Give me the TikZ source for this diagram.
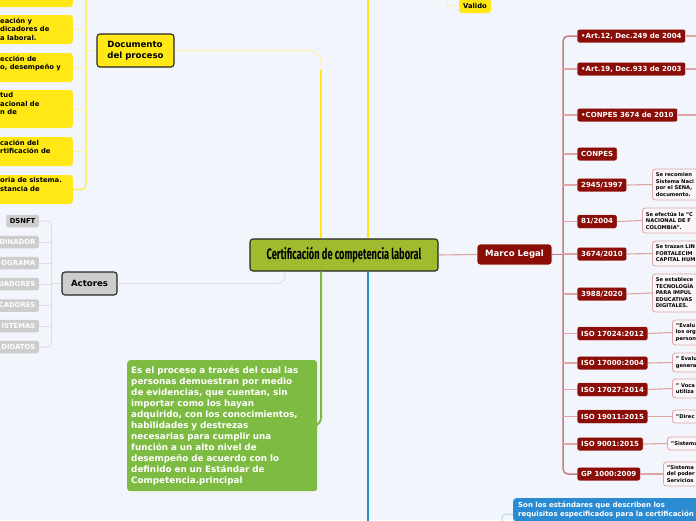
\documentclass[tikz,border=0pt]{standalone}
\usepackage{fontspec}
\setmainfont{DejaVu Sans}
\newfontfamily\condfont[FakeStretch=0.62]{Fira Sans}
\usetikzlibrary{positioning}
\definecolor{fondo}{HTML}{F3F5FC}
\definecolor{amarillo}{HTML}{FFE816}
\definecolor{amarillop}{HTML}{FFF1A6}
\definecolor{oliva}{HTML}{A0BB2E}
\definecolor{verde}{HTML}{7DBB42}
\definecolor{azul}{HTML}{2A8AD2}
\definecolor{azulp}{HTML}{B8D8F0}
\definecolor{rojo}{HTML}{8B0D08}
\definecolor{rojop}{HTML}{DDA5A5}
\definecolor{rojot}{HTML}{C47C7E}
\definecolor{gris}{HTML}{CDCDCD}
\definecolor{grisp}{HTML}{DCDDE5}
\definecolor{notab}{HTML}{FBF6F7}

\begin{document}
\begin{tikzpicture}[x=1pt,y=-1pt,
    every node/.style={font=\bfseries},
    tema/.style={draw=black!85,line width=1.1pt,rounded corners=3pt,inner sep=0pt,align=left,font=\bfseries\fontsize{8.6}{11}\selectfont},
    hojaam/.style={fill=amarillo,rounded corners=3pt,inner sep=0pt},
    actor/.style={fill=gris,text=white,rounded corners=2pt,inner xsep=3.5pt,inner ysep=0pt,minimum height=12.5pt,anchor=east,font=\bfseries\fontsize{6.8}{8}\selectfont},
    legal/.style={fill=rojo,draw=white,line width=0.4pt,text=white,rounded corners=2pt,inner xsep=4pt,inner ysep=0pt,minimum height=13.5pt,anchor=west,font=\bfseries\fontsize{7}{8}\selectfont},
    nota/.style={fill=notab,draw=rojop,line width=0.8pt,rounded corners=3pt,anchor=west,align=left,text width=60pt,inner xsep=3.5pt,inner ysep=0pt,font=\bfseries\fontsize{5.2}{6.5}\selectfont},
    ramaam/.style={draw=amarillop,line width=1pt},
    troncoam/.style={draw=amarillo,line width=2pt},
    ramagr/.style={draw=grisp,line width=1pt},
    ramarj/.style={draw=rojop,line width=1.1pt},
    troncorj/.style={draw=rojot,line width=1.5pt},
    troncove/.style={draw=verde,line width=2pt},
    troncoaz/.style={draw=azul,line width=2pt},
  ]
  \useasboundingbox (0,0) rectangle (696,520);
  \fill[fondo] (0,0) rectangle (696,520);
  \clip (0,0) rectangle (696,520);

  \node[tema, fill=oliva, minimum width=188pt, minimum height=32pt, align=center,
    font=\condfont\bfseries\fontsize{15}{15}\selectfont] (centro) at (344,255) {Certificación de competencia laboral};

  % documento del proceso
  \node[tema, fill=amarillo, minimum width=77pt, minimum height=33pt] (doc) at (135.5,50.5) {Documento\\del proceso};
  \foreach \i/\yc/\h/\txt in {1/-7.5/29/{}, 2/29.5/29/{eación y\\dicadores de\\a laboral.}, 3/67.5/29/{ección de\\o, desempeño y},
      4/109/38/{tud\\acional de\\n de}, 5/151.5/29/{cación del\\rtificación de}, 6/189.5/29/{oria de sistema.\\stancia de}} {
    \node[hojaam, minimum width=80pt, minimum height=\h pt, anchor=east] (pa\i) at (73,\yc) {};
    \node[anchor=north west, align=left, inner sep=0pt, font=\bfseries\fontsize{6.8}{8.5}\selectfont] (tx\i) at (0,\yc-\h/2+2.5) {\txt};
  }
  \node[hojaam, minimum width=32pt, minimum height=14pt, font=\bfseries\fontsize{6.8}{8}\selectfont] (valido) at (475,6) {Valido};

  \coordinate (tam) at (86,0);
  \coordinate (cam) at (321,0);
  \coordinate (cam2) at (368,0);
  \draw[draw=amarillo!85, line width=1.2pt, rounded corners=5pt] (86,-5) |- (pa6.east);
  \foreach \i in {2,...,5} \draw[ramaam] (pa\i.east) -- (pa\i.east -| tam);
  \draw[ramaam] (doc.west) -- (doc.west -| tam);
  \draw[ramaam, rounded corners=12pt] (doc.east) -| (321,100);
  \draw[troncoam] (321,70) -- (centro.north -| cam);
  \draw[troncoam] (368,-5) -- (centro.north -| cam2);
  \draw[ramaam, rounded corners=4pt] (valido.west) -| (447,-3);

  % actores
  \node[tema, fill=gris, minimum width=55pt, minimum height=23pt] (act) at (89.5,283.5) {Actores};
  \node[actor, text=black] (ac1) at (39,221) {DSNFT};
  \foreach \i/\yc/\txt in {2/242/DINADOR, 3/263/OGRAMA, 4/284/UADORES, 5/305.5/CADORES, 6/326/ISTEMAS, 7/347/DIDATOS}
    \node[actor, text width=45pt, align=right] (ac\i) at (39,\yc) {\txt};
  \coordinate (tgr) at (51.5,0);
  \coordinate (cgr) at (285,0);
  \draw[ramagr, rounded corners=4pt] (ac1.east) -| (tgr |- act.west) |- (ac7.east);
  \foreach \i in {2,...,6} \draw[ramagr] (ac\i.east) -- (ac\i.east -| tgr);
  \draw[ramagr] (act.west) -- (act.west -| tgr);
  \draw[ramagr, rounded corners=8pt] (act.east) -| (centro.south -| cgr);

  % definicion
  \node[fill=verde, text=white, rounded corners=3pt, anchor=north west, minimum width=190pt, minimum height=131pt,
    text width=182pt, inner xsep=4pt, align=left, font=\bfseries\fontsize{8.8}{11}\selectfont] (defin) at (127,360)
    {Es el proceso a través del cual las\\personas demuestran por medio\\de evidencias, que cuentan, sin\\importar como los hayan\\adquirido, con los conocimientos,\\habilidades y destrezas\\necesarias para cumplir una\\función a un alto nivel de\\desempeño de acuerdo con lo\\definido en un Estándar de\\Competencia.principal};
  \draw[troncove, rounded corners=8pt] (centro.south -| cam) |- (defin.east);

  % estandares
  \node[fill=azul, text=white, rounded corners=3pt, anchor=north west, text width=200pt, inner xsep=5pt, inner ysep=3.5pt,
    align=left, font=\bfseries\fontsize{7}{9}\selectfont] (estan) at (513,498)
    {Son los estándares que describen los\\requisitos especificados para la certificación};
  \draw[troncoaz] (centro.south -| cam2) -- (368,525);
  \draw[draw=azulp, line width=1pt, rounded corners=4pt] ([yshift=-16pt]estan.north west) -| (502,525);

  % marco legal
  \node[fill=rojo, draw=white, line width=0.8pt, text=white, rounded corners=3pt, minimum width=75pt, minimum height=21pt,
    font=\bfseries\fontsize{8.6}{10}\selectfont] (marco) at (514.5,254.5) {Marco Legal};
  \foreach \i/\yc/\txt in {1/36/{•Art.12, Dec.249 de 2004}, 2/69/{•Art.19, Dec.933 de 2003}, 3/115/{•CONPES 3674 de 2010},
      4/154/{CONPES}, 5/185/{2945/1997}, 6/221.5/{81/2004}, 7/254/{3674/2010}, 8/294/{3988/2020},
      9/333.5/{ISO 17024:2012}, 10/363/{ISO 17000:2004}, 11/389.5/{ISO 17027:2014}, 12/416.5/{ISO 19011:2015},
      13/444/{ISO 9001:2015}, 14/474/{GP 1000:2009}}
    \node[legal] (l\i) at (577,\yc) {\txt};
  \foreach \i/\x/\yc/\h/\txt in {5/652/184.5/31/{Se recomien\\Sistema Naci\\por el SENA,\\documento.},
      6/642/220.5/25/{Se efectúa la "C\\NACIONAL DE F\\COLOMBIA".}, 7/652/253.5/25/{Se trazan LIN\\FORTALECIM\\CAPITAL HUM},
      8/652/293/38/{Se establece\\TECNOLOGÍA\\PARA IMPUL\\EDUCATIVAS\\DIGITALES.}, 9/672/332.5/25/{"Evalu\\los org\\person},
      10/672/362.5/19/{" Evalu\\genera}, 11/672/388.5/19/{" Voca\\utiliza}, 12/672/416.5/13/{"Direc},
      13/667/443.5/13/{"Sistema}, 14/663/474/24/{"Sistema\\del poder\\Servicios}}
    \node[nota, minimum height=\h pt] (n\i) at (\x,\yc) {\txt};

  \coordinate (trj) at (563,0);
  \coordinate (borde) at (700,0);
  \draw[ramarj] (centro.east) -- (marco.west);
  \draw[troncorj] (marco.east) -- (marco.east -| trj);
  \draw[troncorj, rounded corners=5pt] (l1.west) -| (trj |- marco.east) |- (l14.west);
  \foreach \i in {2,...,13} \draw[ramarj] (l\i.west) -- (l\i.west -| trj);
  \foreach \i in {1,2,3} \draw[ramarj] (l\i.east) -- (l\i.east -| borde);
  \foreach \i in {5,...,14} \draw[ramarj] (l\i.east) -- (n\i.west);
\end{tikzpicture}
\end{document}
